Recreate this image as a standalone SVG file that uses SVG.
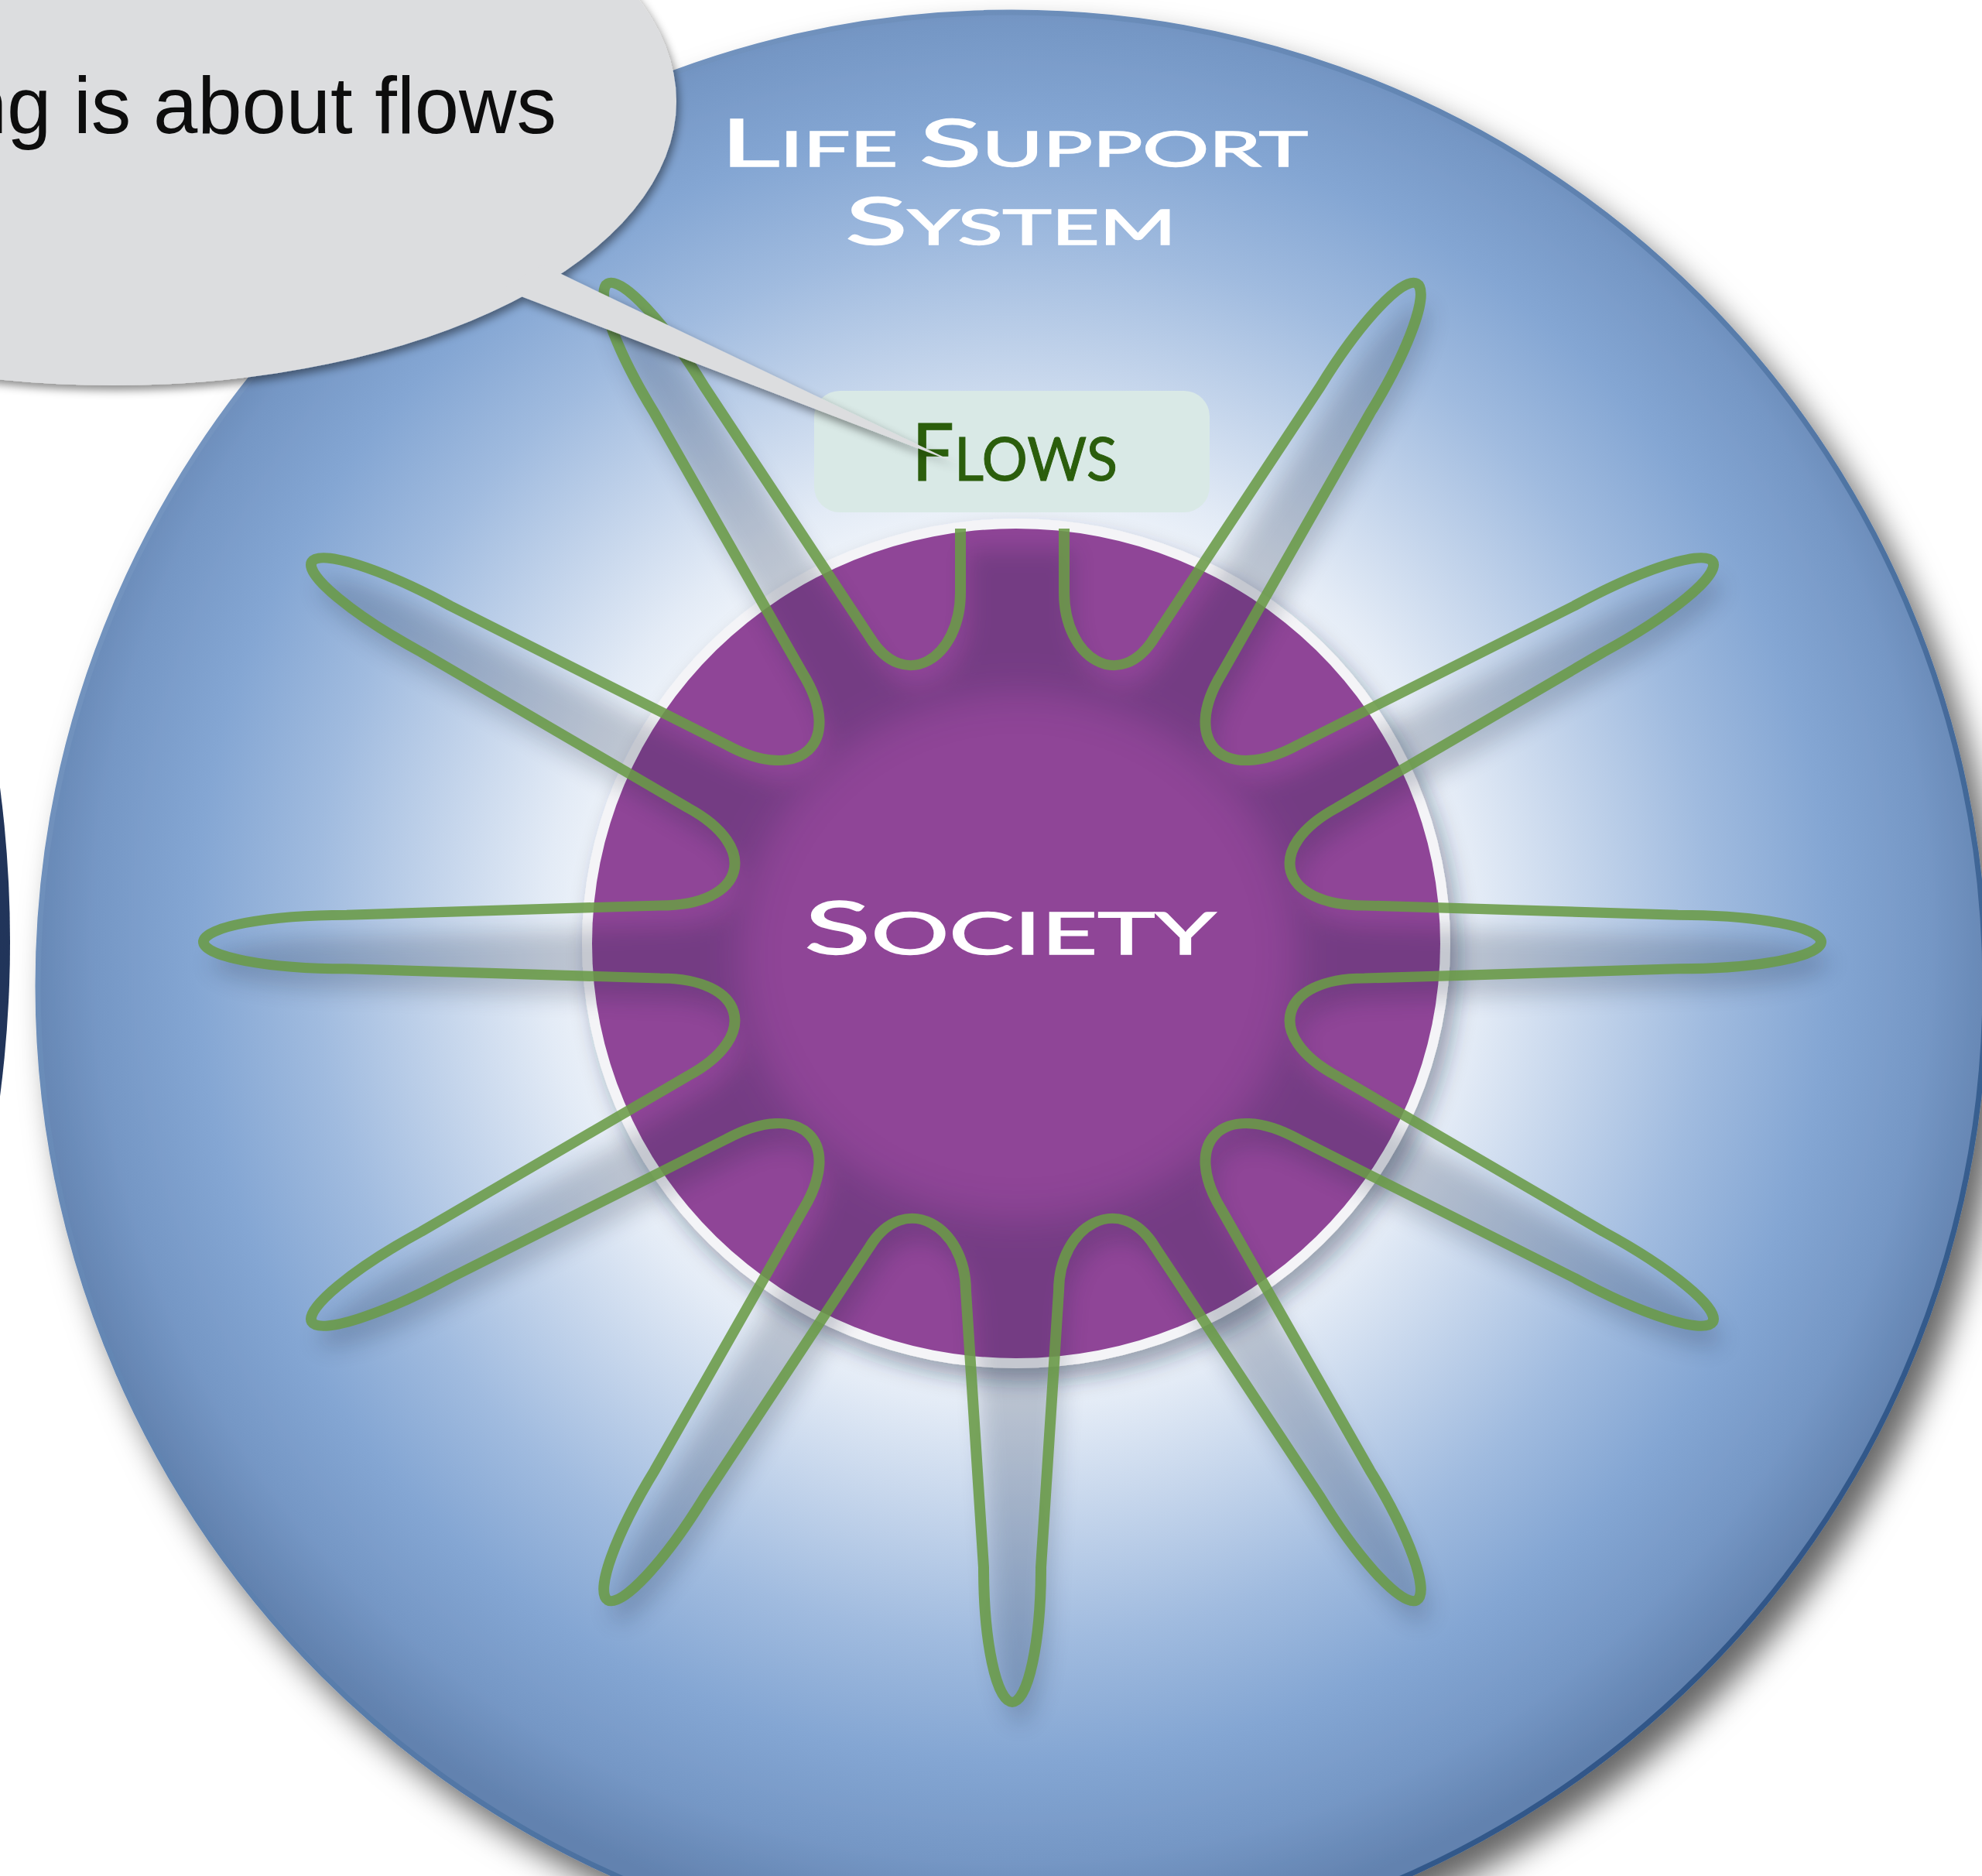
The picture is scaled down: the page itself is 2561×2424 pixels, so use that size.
<svg xmlns="http://www.w3.org/2000/svg" width="2561" height="2424" viewBox="0 0 2561 2424">
<style>
.cap{font-family:Lato,"Open Sans","DejaVu Sans",sans-serif}
.petal{fill:none;stroke:#6a9b47;stroke-width:14;stroke-opacity:0.88;stroke-linejoin:round;stroke-linecap:butt}
.bubble{fill:#dcdddf}
</style>
<defs>
<radialGradient id="sky" gradientUnits="userSpaceOnUse" cx="1308" cy="1217" r="1290">
<stop offset="0" stop-color="#ffffff"/>
<stop offset="0.40" stop-color="#f2f6fb"/>
<stop offset="0.47" stop-color="#e3ebf6"/>
<stop offset="0.58" stop-color="#c3d4eb"/>
<stop offset="0.70" stop-color="#a0bbdf"/>
<stop offset="0.82" stop-color="#84a6d3"/>
<stop offset="0.92" stop-color="#7597c5"/>
<stop offset="1" stop-color="#6282af"/>
</radialGradient>
<linearGradient id="rim" x1="0" y1="0" x2="1" y2="1">
<stop offset="0" stop-color="#7f9ec8"/>
<stop offset="0.5" stop-color="#5a7eac"/>
<stop offset="1" stop-color="#1e4679"/>
</linearGradient>
<radialGradient id="navy" cx="0.95" cy="0.5" r="0.6">
<stop offset="0" stop-color="#22365c"/>
<stop offset="1" stop-color="#162645"/>
</radialGradient>
<filter id="bigShadow" x="-10%" y="-10%" width="125%" height="125%">
<feDropShadow dx="20" dy="26" stdDeviation="20" flood-color="#000" flood-opacity="0.6"/>
</filter>
<filter id="discShadow" x="-20%" y="-20%" width="140%" height="140%">
<feDropShadow dx="10" dy="16" stdDeviation="14" flood-color="#1b2b45" flood-opacity="0.4"/>
</filter>
<filter id="soft" x="-20%" y="-20%" width="140%" height="140%">
<feGaussianBlur stdDeviation="15"/>
</filter>
<filter id="holeBlur" x="-30%" y="-30%" width="160%" height="160%">
<feGaussianBlur stdDeviation="25"/>
</filter>
<filter id="bubbleShadow" x="-10%" y="-10%" width="125%" height="130%">
<feDropShadow dx="3" dy="6" stdDeviation="6" flood-color="#000" flood-opacity="0.45"/>
</filter>
<mask id="centreHole" maskUnits="userSpaceOnUse" x="0" y="0" width="2561" height="2424">
<rect x="0" y="0" width="2561" height="2424" fill="#fff"/>
<ellipse cx="1316" cy="1235" rx="360" ry="340" fill="#000" filter="url(#holeBlur)"/>
</mask>
<path id="flower" d="M 67,-568 L 67,-480 C 67,-390 139.2,-341.1 184.2,-419 L 398,-763.3 C 449,-851.6 504.8,-915.2 522.5,-905 C 540.2,-894.8 513,-814.6 462,-726.3 L 270.8,-369 C 215.8,-273.8 273.8,-215.8 369,-270.8 L 726.3,-462 C 814.6,-513 894.8,-540.2 905,-522.5 C 915.2,-504.8 851.6,-449 763.3,-398 L 419,-184.2 C 323.8,-129.2 345,-50 455,-50 L 860,-37 C 962,-37 1045,-20.4 1045,0 C 1045,20.4 962,37 860,37 L 455,50 C 345,50 323.8,129.2 419,184.2 L 763.3,398 C 851.6,449 915.2,504.8 905,522.5 C 894.8,540.2 814.6,513 726.3,462 L 369,270.8 C 273.8,215.8 215.8,273.8 270.8,369 L 462,726.3 C 513,814.6 540.2,894.8 522.5,905 C 504.8,915.2 449,851.6 398,763.3 L 184.2,419 C 139.2,341.1 60,390 60,480 L 37,860 C 37,962 20.4,1045 0,1045 C -20.4,1045 -37,962 -37,860 L -60,480 C -60,390 -139.2,341.1 -184.2,419 L -398,763.3 C -449,851.6 -504.8,915.2 -522.5,905 C -540.2,894.8 -513,814.6 -462,726.3 L -270.8,369 C -215.8,273.8 -273.8,215.8 -369,270.8 L -726.3,462 C -814.6,513 -894.8,540.2 -905,522.5 C -915.2,504.8 -851.6,449 -763.3,398 L -419,184.2 C -323.8,129.2 -345,50 -455,50 L -860,37 C -962,37 -1045,20.4 -1045,0 C -1045,-20.4 -962,-37 -860,-37 L -455,-50 C -345,-50 -323.8,-129.2 -419,-184.2 L -763.3,-398 C -851.6,-449 -915.2,-504.8 -905,-522.5 C -894.8,-540.2 -814.6,-513 -726.3,-462 L -369,-270.8 C -273.8,-215.8 -215.8,-273.8 -270.8,-369 L -462,-726.3 C -513,-814.6 -540.2,-894.8 -522.5,-905 C -504.8,-915.2 -449,-851.6 -398,-763.3 L -184.2,-419 C -139.2,-341.1 -67,-390 -67,-480 L -67,-568"/>
</defs>
<rect width="2561" height="2424" fill="#ffffff"/>
<g id="neighbour-circle">
<circle cx="-1525" cy="1217" r="1538" fill="url(#navy)"/>
</g>
<g id="life-support-system">
<circle cx="1307" cy="1274" r="1258" fill="url(#sky)" stroke="url(#rim)" stroke-width="7" filter="url(#bigShadow)"/>
<text class="cap" x="931" y="215" textLength="759" lengthAdjust="spacingAndGlyphs" fill="#ffffff" stroke="#ffffff" stroke-width="1.5"><tspan font-size="85">L</tspan><tspan font-size="61">IFE </tspan><tspan font-size="85">S</tspan><tspan font-size="61">UPPORT</tspan></text>
<text class="cap" x="1092" y="316" textLength="428" lengthAdjust="spacingAndGlyphs" fill="#ffffff" stroke="#ffffff" stroke-width="1.5"><tspan font-size="85">S</tspan><tspan font-size="61">YSTEM</tspan></text>
</g>
<g id="society">
<ellipse cx="1313" cy="1219" rx="561" ry="549" fill="#f4f4f7" filter="url(#discShadow)"/>
<ellipse cx="1313" cy="1219" rx="548" ry="536" fill="#8f4597"/>
</g>
<g id="connectors">
<g mask="url(#centreHole)">
<g transform="translate(1318 1245) scale(1 0.94)" opacity="0.2" filter="url(#soft)">
<use href="#flower" fill="#0e1d38"/>
</g>
</g>
<g transform="translate(1308 1217) scale(1 0.94)">
<use href="#flower" class="petal"/>
</g>
</g>
<g id="society-label">
<text class="cap" x="1039" y="1233" textLength="532" lengthAdjust="spacingAndGlyphs" fill="#ffffff" stroke="#ffffff" stroke-width="1.5"><tspan font-size="95">S</tspan><tspan font-size="75">OCIETY</tspan></text>
</g>
<g id="flows">
<rect x="1052" y="505" width="511" height="157" rx="33" fill="#d9e9e6"/>
<text class="cap" x="1178" y="621" textLength="266" lengthAdjust="spacingAndGlyphs" fill="#2b5e0c" stroke="#2b5e0c" stroke-width="1"><tspan font-size="102">F</tspan><tspan font-size="78">LOWS</tspan></text>
</g>
<g id="speech-bubble" filter="url(#bubbleShadow)">
<ellipse class="bubble" cx="147" cy="131" rx="727" ry="367"/>
<polygon class="bubble" points="650,374 1235,598 700,342"/>
<text x="719" y="172" text-anchor="end" font-family="'Liberation Sans',Arial,sans-serif" font-size="103" fill="#0a0a0a">ng is about flows</text>
</g>
</svg>
